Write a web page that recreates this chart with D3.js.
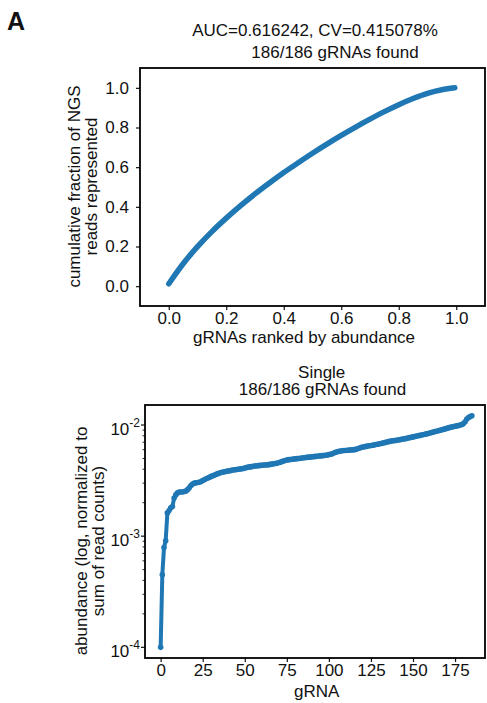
<!DOCTYPE html>
<html>
<head>
<meta charset="utf-8">
<script src="https://cdn.jsdelivr.net/npm/d3@7"></script>
<style>
  body { margin: 0; background: #fff; }
  svg text { font-family: "Liberation Sans", Arial, Helvetica, sans-serif; fill: #111; }
</style>
</head>
<body>
<div id="figure"></div>
<script>
// Top panel: cumulative fraction of reads vs rank fraction.
var rankFraction = [0, 0.05, 0.1, 0.15, 0.2, 0.25, 0.3, 0.35, 0.4, 0.45, 0.5,
    0.55, 0.6, 0.65, 0.7, 0.75, 0.8, 0.85, 0.9, 0.95, 0.995];
var cumFraction = [0.012, 0.113, 0.199, 0.275, 0.343, 0.406, 0.465, 0.52, 0.573, 0.622, 0.67,
    0.716, 0.76, 0.802, 0.842, 0.88, 0.915, 0.946, 0.972, 0.99, 1.0];
var topTitle = ["AUC=0.616242, CV=0.415078%", "186/186 gRNAs found"];
var topXTicks = [0, 0.2, 0.4, 0.6, 0.8, 1.0];
var topYTicks = [0, 0.2, 0.4, 0.6, 0.8, 1.0];

// Bottom panel: abundance per gRNA (sorted ascending), index = gRNA.
var abundance = [
    1.0e-4, 4.5e-4, 7.9e-4, 9.1e-4, 1.62e-3, 1.7e-3, 1.8e-3, 1.85e-3, 2.2e-3, 2.35e-3,
    2.45e-3, 2.5e-3, 2.5e-3, 2.5e-3, 2.52e-3, 2.55e-3, 2.62e-3, 2.72e-3, 2.85e-3, 2.95e-3,
    3.0e-3, 3.02e-3, 3.04e-3, 3.06e-3, 3.1e-3, 3.17e-3, 3.22e-3, 3.28e-3, 3.33e-3, 3.38e-3,
    3.45e-3, 3.5e-3, 3.55e-3, 3.6e-3, 3.65e-3, 3.7e-3, 3.74e-3, 3.78e-3, 3.8e-3, 3.83e-3,
    3.86e-3, 3.88e-3, 3.91e-3, 3.94e-3, 3.96e-3, 3.98e-3, 4.0e-3, 4.02e-3, 4.04e-3, 4.06e-3,
    4.1e-3, 4.15e-3, 4.18e-3, 4.2e-3, 4.22e-3, 4.25e-3, 4.27e-3, 4.29e-3, 4.31e-3, 4.33e-3,
    4.35e-3, 4.36e-3, 4.37e-3, 4.38e-3, 4.4e-3, 4.42e-3, 4.45e-3, 4.48e-3, 4.5e-3, 4.53e-3,
    4.57e-3, 4.62e-3, 4.68e-3, 4.74e-3, 4.8e-3, 4.85e-3, 4.88e-3, 4.9e-3, 4.92e-3, 4.94e-3,
    4.96e-3, 4.98e-3, 5.0e-3, 5.02e-3, 5.04e-3, 5.07e-3, 5.1e-3, 5.12e-3, 5.14e-3, 5.16e-3,
    5.18e-3, 5.2e-3, 5.22e-3, 5.24e-3, 5.26e-3, 5.28e-3, 5.3e-3, 5.32e-3, 5.35e-3, 5.38e-3,
    5.42e-3, 5.46e-3, 5.52e-3, 5.6e-3, 5.68e-3, 5.75e-3, 5.8e-3, 5.84e-3, 5.87e-3, 5.89e-3,
    5.9e-3, 5.92e-3, 5.94e-3, 5.96e-3, 5.98e-3, 6.0e-3, 6.04e-3, 6.1e-3, 6.18e-3, 6.26e-3,
    6.33e-3, 6.38e-3, 6.42e-3, 6.46e-3, 6.5e-3, 6.54e-3, 6.58e-3, 6.62e-3, 6.67e-3, 6.72e-3,
    6.77e-3, 6.82e-3, 6.88e-3, 6.94e-3, 7.0e-3, 7.06e-3, 7.12e-3, 7.17e-3, 7.2e-3, 7.24e-3,
    7.28e-3, 7.33e-3, 7.38e-3, 7.43e-3, 7.48e-3, 7.53e-3, 7.58e-3, 7.64e-3, 7.7e-3, 7.76e-3,
    7.82e-3, 7.88e-3, 7.94e-3, 8.0e-3, 8.06e-3, 8.12e-3, 8.18e-3, 8.25e-3, 8.32e-3, 8.4e-3,
    8.48e-3, 8.56e-3, 8.64e-3, 8.72e-3, 8.8e-3, 8.88e-3, 8.96e-3, 9.05e-3, 9.14e-3, 9.23e-3,
    9.33e-3, 9.42e-3, 9.52e-3, 9.6e-3, 9.68e-3, 9.75e-3, 9.82e-3, 9.9e-3, 1.0e-2, 1.01e-2,
    1.03e-2, 1.07e-2, 1.13e-2, 1.17e-2, 1.19e-2, 1.21e-2
];
var bottomTitle = ["Single", "186/186 gRNAs found"];
var bottomXTicks = [0, 25, 50, 75, 100, 125, 150, 175];
var bottomYExponents = [-4, -3, -2];

var blue = "#1f77b4";
var fontSize = 17;

var svg = d3.select("#figure")
    .append("svg")
    .attr("width", 487)
    .attr("height", 703);

// Panel letter.
svg.append("text")
    .attr("x", 7)
    .attr("y", 30)
    .style("font-size", "25px")
    .style("font-weight", "bold")
    .attr("fill", "#000")
    .text("A");

// ---------- top panel ----------
var top1 = { left: 140, right: 485, top: 68, bottom: 306 };

var x1 = d3.scaleLinear().domain([-0.1, 1.1]).range([top1.left, top1.right]);
var y1 = d3.scaleLinear().domain([-0.1, 1.1]).range([top1.bottom, top1.top]);

var xAxis1 = svg.append("g")
    .attr("transform", `translate(0, ${top1.bottom})`)
    .call(d3.axisBottom(x1).tickValues(topXTicks).tickFormat(d3.format(".1f"))
        .tickSizeInner(4).tickSizeOuter(0).tickPadding(4));
var yAxis1 = svg.append("g")
    .attr("transform", `translate(${top1.left}, 0)`)
    .call(d3.axisLeft(y1).tickValues(topYTicks).tickFormat(d3.format(".1f"))
        .tickSizeInner(4).tickSizeOuter(0).tickPadding(7));

[xAxis1, yAxis1].forEach(function(ax) {
    ax.select(".domain").remove();
    ax.selectAll("line").attr("stroke", "#111").attr("stroke-width", 1.2);
    ax.selectAll("text").style("font-size", fontSize + "px")
        .style("font-family", "'Liberation Sans', Arial, sans-serif").attr("fill", "#111");
});
xAxis1.selectAll("text").attr("dy", null).attr("y", 18);

var line1 = d3.line()
    .x((d, i) => x1(rankFraction[i]))
    .y(d => y1(d))
    .curve(d3.curveMonotoneX);

svg.append("path")
    .datum(cumFraction)
    .attr("d", line1)
    .attr("fill", "none")
    .attr("stroke", blue)
    .attr("stroke-width", 5.5)
    .attr("stroke-linecap", "round")
    .attr("stroke-linejoin", "round");

svg.append("rect")
    .attr("x", top1.left)
    .attr("y", top1.top)
    .attr("width", top1.right - top1.left)
    .attr("height", top1.bottom - top1.top)
    .attr("fill", "none")
    .attr("stroke", "#000")
    .attr("stroke-width", 1.8);

svg.append("text").attr("x", 315).attr("y", 36)
    .style("font-size", fontSize + "px").style("text-anchor", "middle").text(topTitle[0]);
svg.append("text").attr("x", 335).attr("y", 57.5)
    .style("font-size", fontSize + "px").style("text-anchor", "middle").text(topTitle[1]);

svg.append("text").attr("x", 304).attr("y", 343)
    .style("font-size", fontSize + "px").style("text-anchor", "middle")
    .text("gRNAs ranked by abundance");

// y label, two lines
svg.append("text")
    .attr("transform", "translate(80, 186.5) rotate(-90)")
    .style("font-size", fontSize + "px").style("text-anchor", "middle")
    .text("cumulative fraction of NGS");
svg.append("text")
    .attr("transform", "translate(96.5, 186.5) rotate(-90)")
    .style("font-size", fontSize + "px").style("text-anchor", "middle")
    .text("reads represented");

// ---------- bottom panel ----------
var bot = { left: 145, right: 485, top: 405, bottom: 658 };

var x2 = d3.scaleLinear().domain([-9.3, 192.8]).range([bot.left, bot.right]);
var y2 = d3.scaleLog().domain([Math.pow(10, -4.096), Math.pow(10, -1.82)])
    .range([bot.bottom, bot.top]);

var xAxis2 = svg.append("g")
    .attr("transform", `translate(0, ${bot.bottom})`)
    .call(d3.axisBottom(x2).tickValues(bottomXTicks)
        .tickSizeInner(4).tickSizeOuter(0));
xAxis2.select(".domain").remove();
xAxis2.selectAll("line").attr("stroke", "#111").attr("stroke-width", 1.2);
xAxis2.selectAll("text").attr("dy", null).attr("y", 18)
    .style("font-size", fontSize + "px")
    .style("font-family", "'Liberation Sans', Arial, sans-serif").attr("fill", "#111");

// log y axis: minor ticks
var minorTicks = [];
bottomYExponents.forEach(function(e) {
    for (var m = 2; m <= 9; m++) {
        var v = m * Math.pow(10, e);
        if (v >= y2.domain()[0] && v <= y2.domain()[1]) minorTicks.push(v);
    }
});
var yAxis2 = svg.append("g").attr("transform", `translate(${bot.left}, 0)`);
yAxis2.selectAll(".minor")
    .data(minorTicks)
    .enter().append("line")
    .attr("x1", 0).attr("x2", -2.5)
    .attr("y1", d => y2(d)).attr("y2", d => y2(d))
    .attr("stroke", "#111").attr("stroke-width", 0.9);
var majors = yAxis2.selectAll(".major")
    .data(bottomYExponents)
    .enter().append("g")
    .attr("transform", d => `translate(0, ${y2(Math.pow(10, d))})`);
majors.append("line")
    .attr("x1", 0).attr("x2", -4)
    .attr("stroke", "#111").attr("stroke-width", 1.2);
var lbl = majors.append("text")
    .attr("x", -5)
    .attr("y", 0)
    .style("text-anchor", "end");
lbl.append("tspan").attr("dy", 10).style("font-size", fontSize + "px").text("10");
lbl.append("tspan").attr("dy", -8.5).style("font-size", "12px").text(d => "-" + (-d));

var line2 = d3.line()
    .x((d, i) => x2(i))
    .y(d => y2(d));

svg.append("path")
    .datum(abundance)
    .attr("d", line2)
    .attr("fill", "none")
    .attr("stroke", blue)
    .attr("stroke-width", 4)
    .attr("stroke-linejoin", "round");

svg.append("g").selectAll("circle")
    .data(abundance)
    .enter().append("circle")
    .attr("cx", (d, i) => x2(i))
    .attr("cy", d => y2(d))
    .attr("r", 2.8)
    .attr("fill", blue);

svg.append("rect")
    .attr("x", bot.left)
    .attr("y", bot.top)
    .attr("width", bot.right - bot.left)
    .attr("height", bot.bottom - bot.top)
    .attr("fill", "none")
    .attr("stroke", "#000")
    .attr("stroke-width", 1.8);

svg.append("text").attr("x", 321.7).attr("y", 377.7)
    .style("font-size", fontSize + "px").style("text-anchor", "middle").text(bottomTitle[0]);
svg.append("text").attr("x", 322.5).attr("y", 395)
    .style("font-size", fontSize + "px").style("text-anchor", "middle").text(bottomTitle[1]);

svg.append("text").attr("x", 316.7).attr("y", 697)
    .style("font-size", fontSize + "px").style("text-anchor", "middle").text("gRNA");

svg.append("text")
    .attr("transform", "translate(87, 541) rotate(-90)")
    .style("font-size", fontSize + "px").style("text-anchor", "middle")
    .text("abundance (log, normalized to");
svg.append("text")
    .attr("transform", "translate(104, 541) rotate(-90)")
    .style("font-size", fontSize + "px").style("text-anchor", "middle")
    .text("sum of read counts)");
</script>
</body>
</html>
